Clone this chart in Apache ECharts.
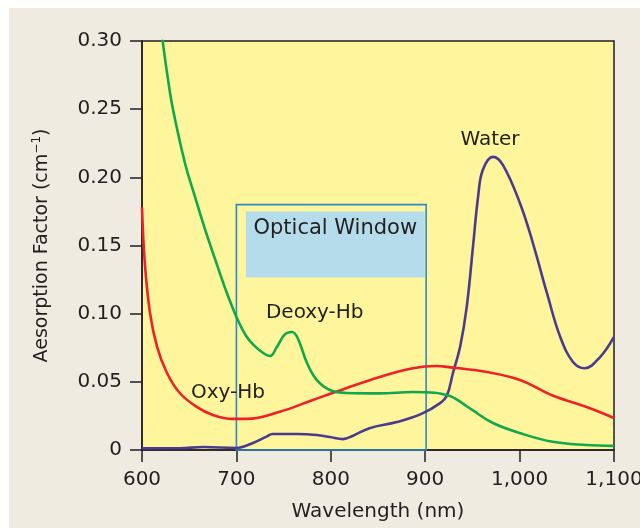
<!DOCTYPE html>
<html>
<head>
<meta charset="utf-8">
<script src="https://cdn.jsdelivr.net/npm/echarts@6/dist/echarts.min.js"></script>
<style>
  html, body { margin: 0; padding: 0; background: #ffffff; }
  #panel { position: absolute; left: 9px; top: 8px; width: 631px; height: 520px; background: #efebe1; }
  #chart { position: absolute; left: 0; top: 0; width: 640px; height: 528px; }
</style>
</head>
<body>
<div id="panel"></div>
<div id="chart"></div>
<script>
// Absorption spectra, [wavelength nm, absorption factor cm^-1]
const deoxyHb = [
  [621.5, 0.302], [627.5, 0.272], [632.8, 0.250], [645.5, 0.2105], [656, 0.186],
  [666.7, 0.162], [678.4, 0.138], [690, 0.115], [701.7, 0.095], [710, 0.084],
  [717.6, 0.0775], [728, 0.0713], [735.6, 0.069], [743, 0.0757], [751.5, 0.085],
  [759, 0.0866], [765, 0.082], [774.8, 0.0638], [785, 0.0514], [799, 0.044],
  [817, 0.0418], [852, 0.0415], [887, 0.0425], [910, 0.042], [926, 0.0396],
  [933.7, 0.037], [950.6, 0.029], [971.8, 0.0198], [1000, 0.0125], [1035, 0.006],
  [1071, 0.0037], [1100, 0.003]
];
const oxyHb = [
  [600, 0.178], [603, 0.137], [608.5, 0.1005], [616, 0.0757], [626.5, 0.0565],
  [640, 0.0418], [658, 0.0316], [675, 0.0257], [696, 0.0228], [711, 0.0228],
  [746, 0.028], [781, 0.0367], [817, 0.0455], [852, 0.0536], [887, 0.060],
  [912.5, 0.0616], [923, 0.061], [965.5, 0.0572], [1000.4, 0.0514], [1035, 0.040],
  [1071, 0.0316], [1100, 0.0235]
];
const water = [
  [600, 0.0012], [640, 0.0013], [665, 0.0022], [700, 0.0015], [717, 0.005],
  [732, 0.0098], [738, 0.0117], [764, 0.0117], [785, 0.011], [799, 0.0095],
  [813, 0.008], [823, 0.0103], [841, 0.016], [870, 0.0205], [896, 0.0265],
  [915, 0.034], [923, 0.040], [929.4, 0.0565], [937, 0.0757], [944, 0.105],
  [950.6, 0.149], [956, 0.1856], [961, 0.2054], [971.8, 0.215], [982.4, 0.209],
  [1000.4, 0.181], [1014, 0.152], [1029, 0.115], [1043, 0.083], [1056.6, 0.0646],
  [1069, 0.060], [1085, 0.068], [1100, 0.083]
];
// Optical window: outer frame and caption box, [x0, y0, x1, y1]
const windowFrame = [700, 0, 901, 0.18];
const windowCaption = [710, 0.1265, 899.5, 0.175];
const windowText = 'Optical Window';
// Curve names and where they are written
const curveLabels = [
  { text: 'Water', at: [968.6, 0.2275] },
  { text: 'Deoxy-Hb', at: [783, 0.1005] },
  { text: 'Oxy-Hb', at: [691, 0.0418] }
];

const INK = '#231f20';
const FONT = 'DejaVu Sans, sans-serif';
const chart = echarts.init(document.getElementById('chart'), null, { renderer: 'canvas' });

function curve(name, data, color, extra) {
  return Object.assign({
    name, type: 'line', data, smooth: 0.4,
    symbol: 'none', clip: true,
    lineStyle: { color, width: 2.6 }, z: 3
  }, extra || {});
}

chart.setOption({
  animation: false,
  backgroundColor: 'transparent',
  textStyle: { fontFamily: FONT },
  grid: {
    left: 142, top: 41, right: 26, bottom: 78,
    containLabel: false, outerBoundsMode: 'none',
    show: true, backgroundColor: '#fef59c', borderColor: INK, borderWidth: 1.5
  },
  xAxis: {
    type: 'value', min: 600, max: 1100, interval: 100,
    name: 'Wavelength (nm)', nameLocation: 'middle', nameGap: 52,
    nameTextStyle: { color: INK, fontSize: 20, fontFamily: FONT },
    axisLine: { lineStyle: { color: INK, width: 1.5 } },
    axisTick: { show: true, inside: false, length: 12, lineStyle: { color: INK, width: 1.5 } },
    axisLabel: {
      color: INK, fontSize: 20, margin: 20, fontFamily: FONT,
      formatter: v => v.toLocaleString('en-US')
    },
    splitLine: { show: false }
  },
  yAxis: {
    type: 'value', min: 0, max: 0.3, interval: 0.05,
    name: '{a|Aesorption Factor (cm}{s|−1}{a|)}', nameLocation: 'middle', nameGap: 89,
    nameRotate: 90,
    nameTextStyle: {
      color: INK, fontFamily: FONT,
      rich: {
        a: { fontSize: 19, color: INK, fontFamily: FONT },
        s: { fontSize: 12, color: INK, fontFamily: FONT, verticalAlign: 'top', padding: [0, 0, 10, 0] }
      }
    },
    axisLine: { show: true, lineStyle: { color: INK, width: 1.5 } },
    axisTick: { show: true, inside: false, length: 12, lineStyle: { color: INK, width: 1.5 } },
    axisLabel: {
      color: INK, fontSize: 20, margin: 20, fontFamily: FONT,
      formatter: v => (v === 0 ? '0' : v.toFixed(2))
    },
    splitLine: { show: false }
  },
  series: [
    curve('Water', water, '#4b3b8e', {
      markArea: {
        silent: true,
        data: [
          [
            { xAxis: windowCaption[0], yAxis: windowCaption[1],
              itemStyle: { color: '#b5dcea', borderWidth: 0 },
              label: {
                show: true, position: 'insideTop', distance: 7, formatter: windowText,
                color: INK, fontSize: 21, fontFamily: FONT
              } },
            { xAxis: windowCaption[2], yAxis: windowCaption[3] }
          ],
          [
            { xAxis: windowFrame[0], yAxis: windowFrame[1],
              itemStyle: { color: 'rgba(0,0,0,0)', borderColor: '#2a8ccb', borderWidth: 1.6 },
              label: { show: false } },
            { xAxis: windowFrame[2], yAxis: windowFrame[3] }
          ]
        ]
      }
    }),
    curve('Oxy-Hb', oxyHb, '#ec2227'),
    curve('Deoxy-Hb', deoxyHb, '#0fa84b')
  ]
});

// Curve captions placed through the axes' own scales
chart.setOption({
  graphic: curveLabels.map(l => {
    const p = chart.convertToPixel({ gridIndex: 0 }, l.at);
    return {
      type: 'text', x: p[0], y: p[1], z: 10,
      style: { text: l.text, fill: INK, fontSize: 20, fontFamily: FONT, align: 'center', verticalAlign: 'middle' }
    };
  })
});
</script>
</body>
</html>
